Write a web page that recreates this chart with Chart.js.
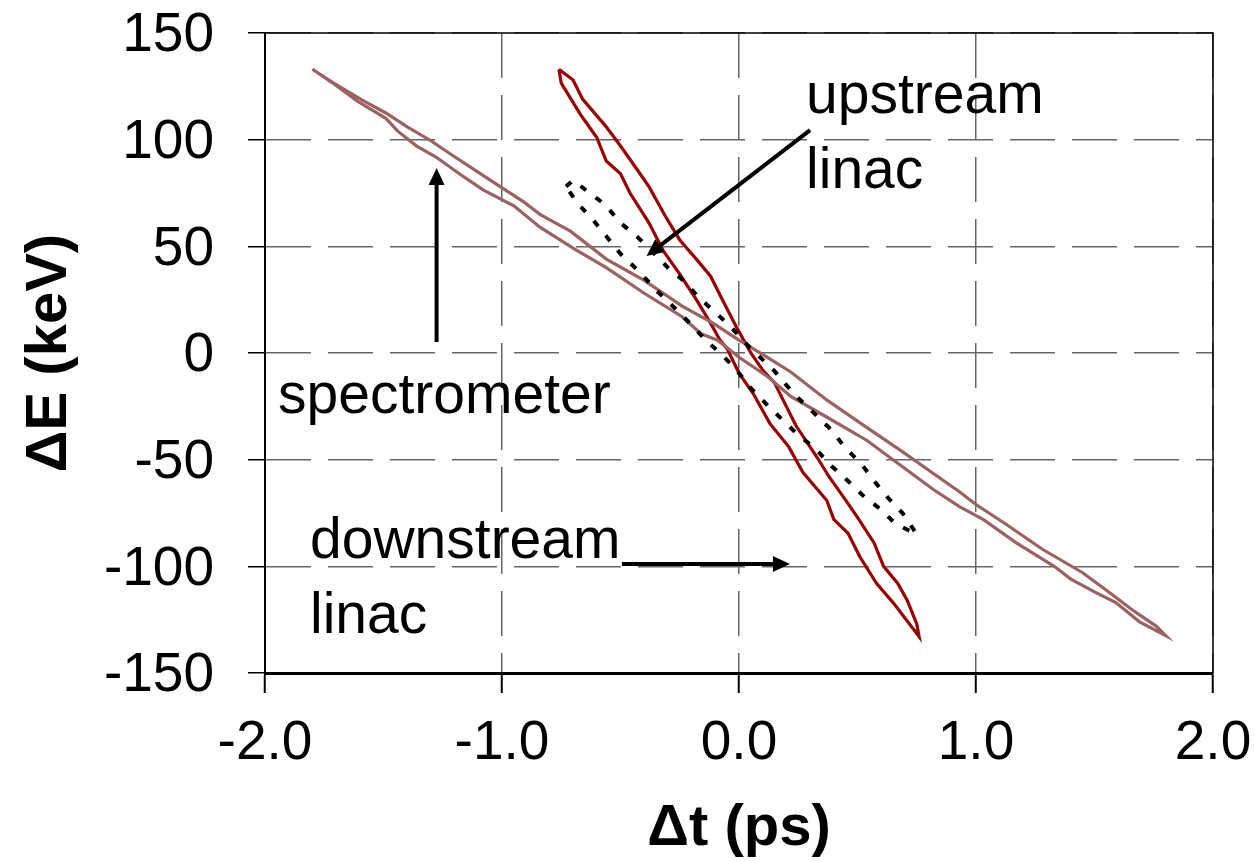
<!DOCTYPE html>
<html><head><meta charset="utf-8">
<script src="https://cdn.jsdelivr.net/npm/chart.js@4"></script>
<style>html,body{margin:0;padding:0;background:#fff;} #wrap{width:1255px;height:861px;}</style>
</head><body><div id="wrap"><canvas id="c" width="1255" height="861"></canvas></div>
<script>
// ---- tick values ----
const xTicks = [-2.0, -1.0, 0.0, 1.0, 2.0];
const yTicks = [-150, -100, -50, 0, 50, 100, 150];

// ---- spectrometer loop (light brown) ----
const specX = [-1.80,-1.71,-1.59,-1.49,-1.40,-1.30,-1.20,-1.09,-0.98,-0.91,-0.84,-0.71,-0.56,-0.40,-0.24,-0.11,0.00,0.12,0.22,0.37,0.54,0.68,0.82,0.93,1.00,1.13,1.28,1.45,1.56,1.66,1.76,1.80,
  1.74,1.69,1.59,1.50,1.40,1.33,1.17,1.03,0.93,0.82,0.71,0.54,0.37,0.22,0.12,0.00,-0.09,-0.16,-0.24,-0.40,-0.56,-0.69,-0.84,-0.95,-1.08,-1.18,-1.28,-1.36,-1.44,-1.49,-1.61,-1.72,-1.80];
const specY = [133,126.5,118.5,112.5,106,99.5,92,84,76,71,65,57,44,34,22,14,6,-2,-9,-22,-35,-45.5,-56.5,-65,-71,-80.5,-92,-103,-112,-120.5,-128,-132.5,
  -129,-126,-117,-112,-106,-100,-89,-78,-72,-64,-55,-41,-30,-20.5,-11,-2,6,9,17,28,40,48.5,59,69,76.5,84,92,97,104,110,118,127,133];

// ---- upstream linac loop (dark red) ----
const upX = [-0.76,-0.70,-0.66,-0.56,-0.50,-0.43,-0.38,-0.31,-0.25,-0.18,-0.12,-0.07,-0.01,0.05,0.10,0.15,0.24,0.33,0.38,0.45,0.50,0.57,0.61,0.67,0.71,0.75,0.76,
  0.74,0.65,0.58,0.51,0.46,0.40,0.37,0.27,0.21,0.13,0.06,0.00,-0.05,-0.08,-0.12,-0.18,-0.25,-0.32,-0.38,-0.46,-0.50,-0.56,-0.60,-0.67,-0.75,-0.76];
const upY = [133,128,119,106,97,86,78,64,53,44,36,25,12,0,-8,-14,-34,-49,-58,-69,-77,-89,-100,-108,-116,-127,-133,
  -130,-117,-108,-95.5,-84.5,-78,-69,-56,-44,-33,-19,-9.5,2,6,14,25,37,48,61,75,84,90,101,112,126.5,133];

// ---- downstream linac loop (black dotted) ----
const downX = [-0.73,-0.70,-0.63,-0.565,-0.50,-0.425,-0.30,-0.235,-0.165,-0.094,-0.024,0.033,0.15,0.23,0.31,0.38,0.45,0.52,0.57,0.63,0.69,0.75,
  0.74,0.66,0.60,0.52,0.46,0.39,0.32,0.25,0.19,0.12,0.05,-0.01,-0.07,-0.14,-0.19,-0.27,-0.35,-0.42,-0.50,-0.62,-0.68,-0.73];
const downY = [78,81,75,69.5,61,54,40,34,25.5,18.5,11,4,-8.5,-19,-27.5,-35,-44.5,-52.5,-60,-68,-75,-85,
  -84.5,-80,-73.5,-66.5,-60,-53,-44.5,-38.5,-32,-24.5,-16.5,-8,-1,6,12,21,29.5,38,46.5,63,70,78];

// ---- annotations (data coordinates) ----
const noteTexts = [
  {text:'upstream', x:0.283, y:112.5},
  {text:'linac', x:0.283, y:77.3},
  {text:'spectrometer', x:-1.945, y:-28.1},
  {text:'downstream', x:-1.81, y:-96.1},
  {text:'linac', x:-1.81, y:-131.3}
];
const noteArrows = [
  {x1:-1.276, y1:5.2, x2:-1.276, y2:86.7},
  {x1:0.30, y1:104.5, x2:-0.39, y2:45.5},
  {x1:-0.494, y1:-98.9, x2:0.215, y2:-98.9}
];

const pts = (xs, ys) => xs.map((x, i) => ({x: x, y: ys[i]}));

const notePlugin = {
  id: 'notes',
  afterDatasetsDraw(chart) {
    const ctx = chart.ctx, xs = chart.scales.x, ys = chart.scales.y, a = chart.chartArea;
    ctx.save();
    ctx.strokeStyle = '#000'; ctx.lineWidth = 1.5; ctx.setLineDash([]);
    ctx.beginPath();
    ctx.moveTo(a.left, a.top); ctx.lineTo(a.right, a.top); ctx.lineTo(a.right, a.bottom);
    ctx.stroke();
    ctx.fillStyle = '#000';
    ctx.font = '57px "Liberation Sans", Arial, sans-serif';
    ctx.textAlign = 'left'; ctx.textBaseline = 'alphabetic';
    noteTexts.forEach(t => ctx.fillText(t.text, xs.getPixelForValue(t.x), ys.getPixelForValue(t.y)));
    noteArrows.forEach(ar => {
      const px1 = xs.getPixelForValue(ar.x1), py1 = ys.getPixelForValue(ar.y1);
      const px2 = xs.getPixelForValue(ar.x2), py2 = ys.getPixelForValue(ar.y2);
      const ang = Math.atan2(py2 - py1, px2 - px1);
      const L = 17, W = 8;
      const bx = px2 - L * Math.cos(ang), by = py2 - L * Math.sin(ang);
      ctx.strokeStyle = '#000'; ctx.lineWidth = 4; ctx.lineCap = 'butt';
      ctx.beginPath(); ctx.moveTo(px1, py1); ctx.lineTo(bx, by); ctx.stroke();
      ctx.beginPath();
      ctx.moveTo(px2, py2);
      ctx.lineTo(bx + W * Math.sin(ang), by - W * Math.cos(ang));
      ctx.lineTo(bx - W * Math.sin(ang), by + W * Math.cos(ang));
      ctx.closePath(); ctx.fill();
    });
    ctx.restore();
  }
};

const tickFont = {family: '"Liberation Sans", Arial, sans-serif', size: 55};
const titleFont = {family: '"Liberation Sans", Arial, sans-serif', size: 58, weight: 'bold'};

new Chart(document.getElementById('c'), {
  type: 'scatter',
  data: {
    datasets: [
      {label: 'upstream linac', data: pts(upX, upY), showLine: true, borderColor: '#990000', borderWidth: 3.2, pointRadius: 0, tension: 0, order: 3},
      {label: 'spectrometer', data: pts(specX, specY), showLine: true, borderColor: '#9a6262', borderWidth: 3.2, pointRadius: 0, tension: 0, order: 2},
      {label: 'downstream linac', data: pts(downX, downY), showLine: true, borderColor: '#000', borderWidth: 4, borderDash: [7, 12], pointRadius: 0, tension: 0, order: 1}
    ]
  },
  options: {
    responsive: false, animation: false, devicePixelRatio: 1,
    layout: {padding: {left: 0, right: 42, top: 33, bottom: 0}},
    plugins: {legend: {display: false}, tooltip: {enabled: false}},
    scales: {
      x: {
        type: 'linear', min: -2, max: 2,
        afterBuildTicks: s => { s.ticks = xTicks.map(v => ({value: v})); },
        afterFit: s => { s.height = 188; s.paddingLeft = 0; s.paddingRight = 0; },
        ticks: {callback: v => Number(v).toFixed(1), font: tickFont, color: '#000', padding: 18, maxRotation: 0, autoSkip: false},
        grid: {color: '#666', lineWidth: 1.5, tickLength: 20, tickColor: '#000', tickWidth: 2, tickBorderDash: []},
        border: {display: true, color: '#000', width: 3, dash: [45, 17]},
        title: {display: true, text: 'Δt (ps)', font: titleFont, color: '#000', padding: {top: 0, bottom: -3}}
      },
      y: {
        type: 'linear', min: -150, max: 150,
        afterBuildTicks: s => { s.ticks = yTicks.map(v => ({value: v})); },
        afterFit: s => { s.width = 265; s.paddingTop = 0; s.paddingBottom = 0; },
        ticks: {callback: v => String(v), font: tickFont, color: '#000', padding: 34, labelOffset: 3, autoSkip: false},
        grid: {color: '#666', lineWidth: 1.5, tickLength: 17, tickColor: '#000', tickWidth: 1.5, tickBorderDash: []},
        border: {display: true, color: '#000', width: 2, dash: [45, 17]},
        title: {display: true, text: 'ΔE (keV)', font: titleFont, color: '#000', padding: {top: 15, bottom: 0}}
      }
    }
  },
  plugins: [notePlugin]
});
</script>
</body></html>
